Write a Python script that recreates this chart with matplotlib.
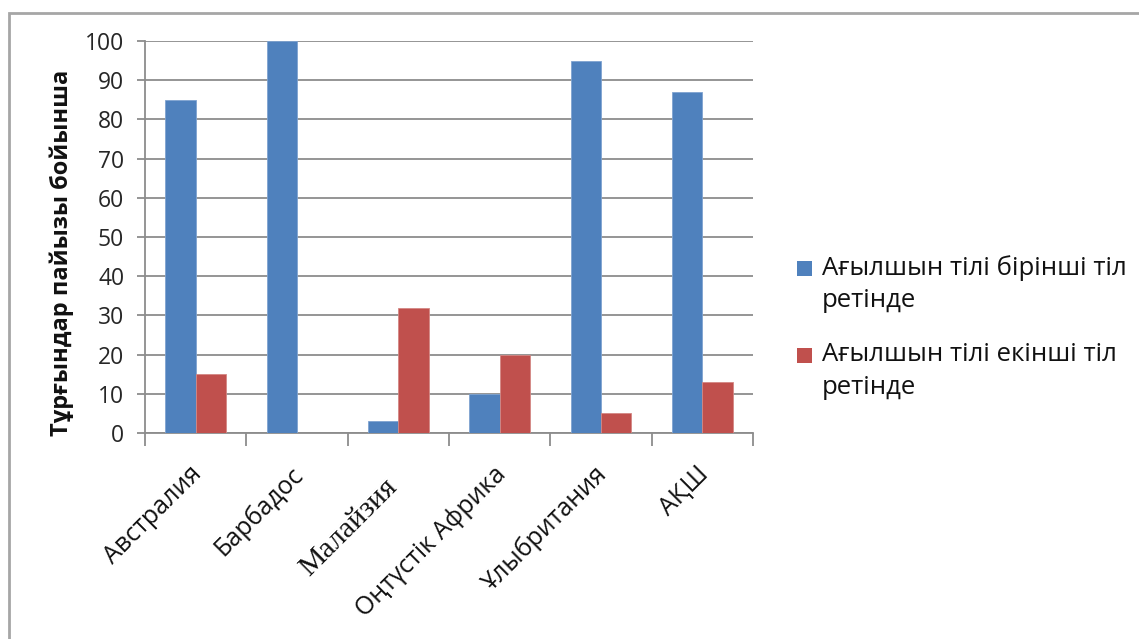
import matplotlib
matplotlib.use("Agg")
import matplotlib.pyplot as plt
from matplotlib.patches import Rectangle
import numpy as np

plt.rcParams['font.family'] = ['Open Sans', 'DejaVu Sans']

countries = ["Австралия", "Барбадос", "Малайзия", "Оңтүстік Африка", "Ұлыбритания", "АҚШ"]
first_language = [85, 100, 3, 10, 95, 87]
second_language = [15, 0, 32, 20, 5, 13]
series_names = ["Ағылшын тілі бірінші тіл\nретінде", "Ағылшын тілі екінші тіл\nретінде"]
y_label = "Тұрғындар пайызы бойынша"
y_ticks = [0, 10, 20, 30, 40, 50, 60, 70, 80, 90, 100]

W, H = 1139, 639
fig = plt.figure(figsize=(W / 100, H / 100), dpi=100)
fig.patch.set_facecolor("white")

# outer chart frame (continues past the right and bottom edges)
fig.add_artist(Rectangle((9 / W, -0.1), 1.2, 1 - 13 / H + 0.1, transform=fig.transFigure,
                         fill=False, edgecolor="#a6a6a6", linewidth=2))

ax = fig.add_axes([145 / W, 1 - 433 / H, (753 - 145) / W, (433 - 41) / H])

x = np.arange(len(countries))
bw = 0.3
blue, red = "#4F81BD", "#C0504D"
ax.bar(x - bw / 2, first_language, bw, color=blue, edgecolor="#7FA3D1", linewidth=0.6, zorder=3)
ax.bar(x + bw / 2, second_language, bw, color=red, edgecolor="#D48784", linewidth=0.6, zorder=3)

ax.set_xlim(-0.5, len(countries) - 0.5)
ax.set_ylim(0, 100)
ax.set_yticks(y_ticks)
ax.yaxis.grid(True, color="#8c8c8c", linewidth=1.3, zorder=0)
ax.set_axisbelow(True)
for s in ["top", "right"]:
    ax.spines[s].set_visible(False)
for s in ["left", "bottom"]:
    ax.spines[s].set_color("#8c8c8c")
    ax.spines[s].set_linewidth(1.3)

ax.tick_params(axis="y", length=6, width=1.3, color="#8c8c8c", labelsize=16.5,
               labelcolor="#262626", pad=9)

# category separators as x ticks
ax.set_xticks(np.arange(len(countries) + 1) - 0.5)
ax.set_xticklabels([])
ax.tick_params(axis="x", length=9, width=1.3, color="#8c8c8c")

for i, name in enumerate(countries):
    if name == "Малайзия":
        fam, fs, off = ["Liberation Serif"], 21.5, (-4, -36)
    else:
        fam, fs, off = ["Open Sans", "DejaVu Sans"], 18, (2, -27)
    ax.annotate(name, xy=(i, 0), xycoords=("data", "axes fraction"),
                xytext=off, textcoords="offset points",
                rotation=45, rotation_mode="anchor", ha="right", va="center",
                fontsize=fs, family=fam, color="#111111")

ax.set_ylabel(y_label, fontsize=17, fontweight="bold", color="#111111")
ax.yaxis.set_label_coords(-0.116, 0.459)

# legend: colour square beside the first line of each two-line name
legend_rows = [(series_names[0], blue, 268), (series_names[1], red, 355)]
for name, col, yc in legend_rows:
    fig.add_artist(Rectangle((797 / W, 1 - (yc + 7.5) / H), 15 / W, 15 / H,
                             transform=fig.transFigure, facecolor=col, edgecolor="none"))
    fig.text(822 / W, 1 - (yc - 13) / H, name, fontsize=18.5, color="#111111",
             ha="left", va="top", linespacing=1.4)

fig.savefig("out.png", dpi=100)
